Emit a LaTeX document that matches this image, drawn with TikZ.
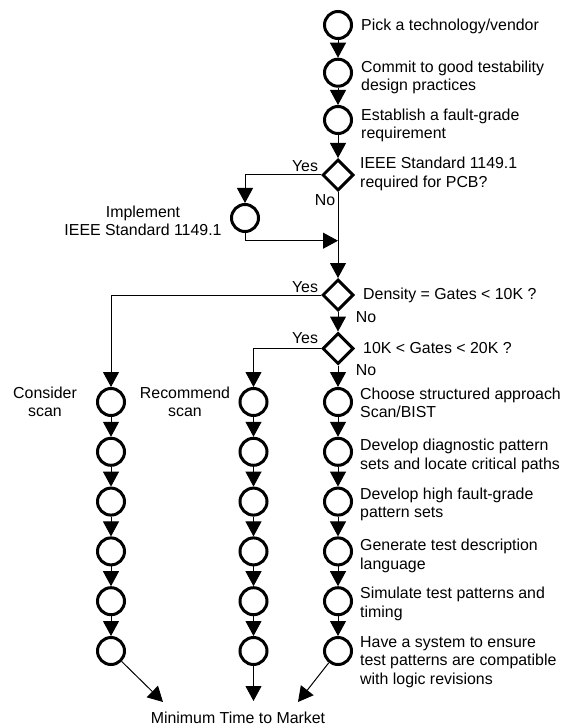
\documentclass[tikz,border=0pt]{standalone}
\usepackage{fontspec}
\setmainfont{Liberation Sans}
\usetikzlibrary{arrows.meta,shapes.geometric}
\newcommand{\ltxt}[1]{\begin{tabular}[t]{@{}l@{}}#1\end{tabular}}
\newcommand{\ctxt}[1]{\begin{tabular}[t]{@{}c@{}}#1\end{tabular}}
\begin{document}
\begin{tikzpicture}[x=1pt,y=-1pt,
  font=\fontsize{15.9}{18.3}\selectfont,
  circ/.style={circle,draw,line width=3pt,minimum size=27pt,inner sep=0pt},
  dia/.style={diamond,draw,line width=3pt,minimum width=31pt,minimum height=31pt,inner sep=0pt},
  conn/.style={line width=1pt},
  arr/.style={conn,-{Triangle[length=15pt,width=16pt]}},
  lbl/.style={anchor=base west,inner sep=0pt},
  clbl/.style={anchor=base,inner sep=0pt}]
\useasboundingbox (0,0) rectangle (565,727);

% top column
\node[circ] (c1) at (338,25) {};
\node[circ] (c2) at (338,72.7) {};
\node[circ] (c3) at (338,120) {};
\node[dia] (d1) at (338,175) {};
\node[circ] (imp) at (245,218) {};
\node[dia] (d2) at (338,295) {};
\node[dia] (d3) at (338,348.5) {};

% three columns
\foreach \i in {1,...,6}{
  \pgfmathsetmacro{\yy}{402+49.8*(\i-1)}
  \node[circ] (L\i) at (111,\yy) {};
  \node[circ] (M\i) at (253.5,\yy) {};
  \node[circ] (R\i) at (338,\yy) {};
}

% connectors
\draw[arr] (c1) -- (c2);
\draw[arr] (c2) -- (c3);
\draw[arr] (c3) -- (d1);
\draw[arr] (d1.west) -| (imp.north);
\coordinate (m1) at (338,240.7);
\draw[arr] (imp.south) |- (m1);
\draw[arr] (d1.south) -- (d2.north);
\draw[arr] (d2.south) -- (d3.north);
\draw[arr] (d2.west) -| (L1.north);
\draw[arr] (d3.west) -| (M1.north);
\draw[arr] (d3.south) -- (R1.north);
\foreach \i/\j in {1/2,2/3,3/4,4/5,5/6}{
  \draw[arr] (L\i) -- (L\j);
  \draw[arr] (M\i) -- (M\j);
  \draw[arr] (R\i) -- (R\j);
}
\coordinate (t1) at (163,702);
\coordinate (t2) at (253.5,701);
\coordinate (t3) at (298,702);
\draw[arr] (L6) -- (t1);
\draw[arr] (M6) -- (t2);
\draw[arr] (R6) -- (t3);

% texts
\node[clbl] (mtm) at (238,723.7) {Minimum Time to Market};
\node[lbl] (tpick) at (361,30.7) {Pick a technology/vendor};
\node[lbl] (tcommit) at (361,72.4) {\ltxt{Commit to good testability\\design practices}};
\node[lbl] (test) at (361,120.7) {\ltxt{Establish a fault-grade\\requirement}};
\node[lbl] (tieee) at (360,169) {\ltxt{IEEE Standard 1149.1\\required for PCB?}};
\node[lbl] (tdens) at (363,299) {Density = Gates < 10K ?};
\node[lbl] (tgates) at (363,353) {10K < Gates < 20K ?};
\node[lbl] (tchoose) at (360,399) {\ltxt{Choose structured approach\\Scan/BIST}};
\node[lbl] (tdiag) at (360,450.7) {\ltxt{Develop diagnostic pattern\\sets and locate critical paths}};
\node[lbl] (thigh) at (360,499.5) {\ltxt{Develop high fault-grade\\pattern sets}};
\node[lbl] (tgen) at (360,550.7) {\ltxt{Generate test description\\language}};
\node[lbl] (tsim) at (360,598.7) {\ltxt{Simulate test patterns and\\timing}};
\node[lbl] (thave) at (360,647.4) {\ltxt{Have a system to ensure\\test patterns are compatible\\with logic revisions}};
\node[clbl] (timpl) at (143,217.4) {\ctxt{Implement\\IEEE Standard 1149.1}};
\node[clbl] (tcons) at (45,398.4) {\ctxt{Consider\\scan}};
\node[clbl] (trec) at (185,398.4) {\ctxt{Recommend\\scan}};
\node[clbl] (y1) at (305,171.2) {Yes};
\node[clbl] (y2) at (305,292.4) {Yes};
\node[clbl] (y3) at (305,343.7) {Yes};
\node[clbl] (n1) at (325,205.7) {No};
\node[clbl] (n2) at (366,322.7) {No};
\node[clbl] (n3) at (366,375.7) {No};
\end{tikzpicture}
\end{document}
